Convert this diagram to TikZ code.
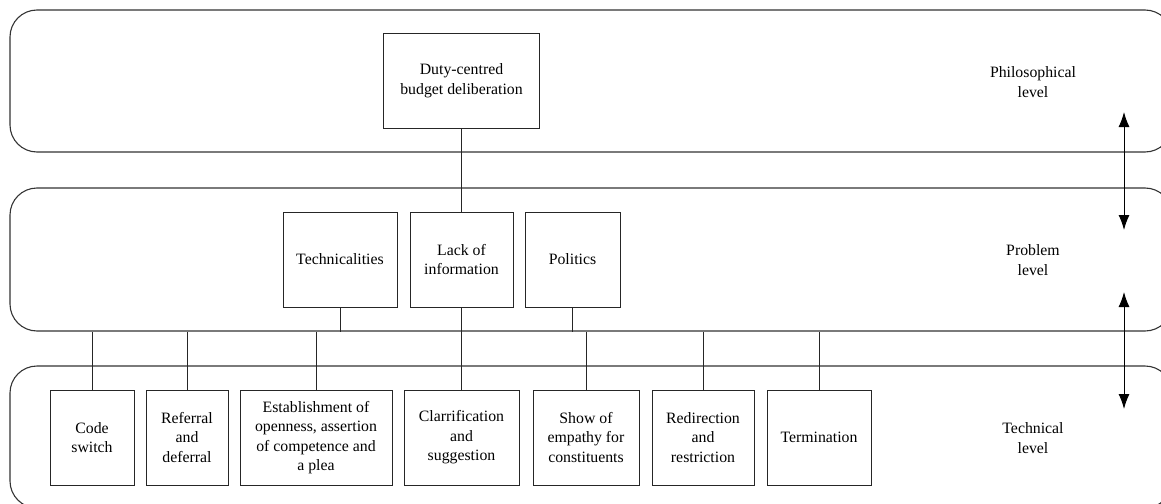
\documentclass[tikz,border=0pt]{standalone}
\usepackage{fontspec}
\setmainfont{Liberation Serif}
\usetikzlibrary{arrows.meta}
\begin{document}
\begin{tikzpicture}[x=1pt,y=-1pt,
  band/.style={draw=black!80, line width=1.1pt, rounded corners=27pt, minimum width=1162pt, minimum height=142pt, inner sep=0pt},
  box/.style={draw=black!85, line width=0.9pt, inner sep=0pt, minimum height=95pt, align=center, font=\fontsize{15.8}{19.5}\selectfont},
  lvl/.style={align=center, inner sep=0pt, font=\fontsize{15.8}{19.5}\selectfont},
  conn/.style={draw=black!85, line width=0.9pt},
  dbl/.style={line width=1pt, {Latex[length=15pt,width=11pt]}-{Latex[length=15pt,width=11pt]}}
]
\useasboundingbox (0,0) rectangle (1161,503);
\clip (0,0) rectangle (1161,503);
% bands
\node[band] (phil) at (591,81) {};
\node[band, minimum height=143pt] (prob) at (591,259.5) {};
\node[band] (techn) at (591,437) {};
% level labels
\node[lvl] (lphil) at (1033,82) {Philosophical\\level};
\node[lvl] (lprob) at (1033,260) {Problem\\level};
\node[lvl] (ltech) at (1033,438) {Technical\\level};
% philosophical
\node[box, minimum width=156pt] (duty) at (461.5,80.5) {Duty-centred\\budget deliberation};
% problem
\node[box, minimum width=114pt] (tech) at (340,259.5) {Technicalities};
\node[box, minimum width=103pt] (lack) at (461.5,259.5) {Lack of\\information};
\node[box, minimum width=95pt] (pol) at (572.5,259.5) {Politics};
% technical
\node[box, minimum width=84pt] (codes) at (92,437.5) {Code\\switch};
\node[box, minimum width=82pt] (ref) at (187,437.5) {Referral\\and\\deferral};
\node[box, minimum width=152pt] (est) at (316,437.5) {Establishment of\\openness, assertion\\of competence and\\a plea};
\node[box, minimum width=115pt] (clar) at (461.5,437.5) {Clarrification\\and\\suggestion};
\node[box, minimum width=106pt] (show) at (586,437.5) {Show of\\empathy for\\constituents};
\node[box, minimum width=102pt] (redir) at (703,437.5) {Redirection\\and\\restriction};
\node[box, minimum width=104pt] (term) at (819,437.5) {Termination};
% connectors
\draw[conn] (duty) -- (lack);
\draw[conn] (lack) -- (clar);
\draw[conn] (tech.south) -- (tech.south |- prob.south);
\draw[conn] (pol.south) -- (pol.south |- prob.south);
\foreach \n in {codes,ref,est,show,redir,term}
  \draw[conn] (\n.north) -- (\n.north |- prob.south);
% level arrows
\coordinate (a1) at (1124,112);
\coordinate (a2) at (1124,230);
\coordinate (a3) at (1124,292);
\coordinate (a4) at (1124,409);
\draw[dbl] (a1) -- (a2);
\draw[dbl] (a3) -- (a4);
\end{tikzpicture}
\end{document}
